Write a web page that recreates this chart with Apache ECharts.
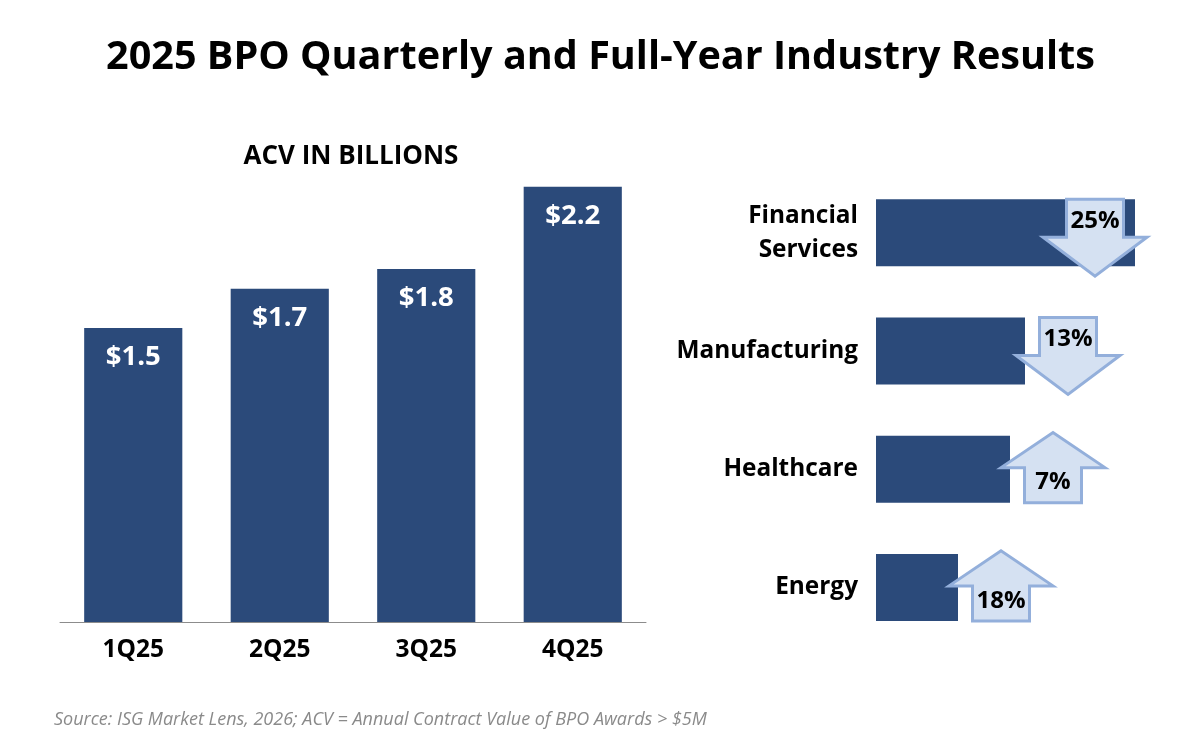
<!DOCTYPE html>
<html>
<head>
<meta charset="utf-8">
<script src="https://cdn.jsdelivr.net/npm/echarts@6/dist/echarts.min.js"></script>
<style>html,body{margin:0;padding:0;background:#fff;}#c{width:1201px;height:750px;}</style>
</head>
<body>
<div id="c"></div>
<script>
var quarters = ['1Q25', '2Q25', '3Q25', '4Q25'];
var acvValues = [1.5, 1.7, 1.8, 2.22];
var industries = ['Financial\nServices', 'Manufacturing', 'Healthcare', 'Energy'];
var industryValues = [2.59, 1.49, 1.34, 0.82];
var changePct = [25, 13, 7, 18];
var changeDir = ['down', 'down', 'up', 'up'];

var BAR = '#2b4a7a';
var FONT = '"Open Sans", "Noto Sans", sans-serif';

var chart = echarts.init(document.getElementById('c'), null, {renderer: 'canvas'});

var arrowData = industryValues.map(function (v, i) {
  return [v, i, changePct[i], changeDir[i] === 'up' ? 1 : 0];
});

function renderArrow(params, api) {
  var val = api.value(0), idx = api.value(1), pct = api.value(2), up = api.value(3);
  var pt = api.coord([val, idx]);
  var cy = pt[1];
  var cx = pt[0] + 43;
  if (cx + 54 > api.getWidth() - 20) cx = pt[0] - 40;
  var sw = 28.5, hw = 52;
  var pts, ty;
  if (!up) {
    var top = cy - 33.5;
    pts = [[cx - sw, top], [cx + sw, top], [cx + sw, top + 38], [cx + hw, top + 38],
           [cx, top + 77], [cx - hw, top + 38], [cx - sw, top + 38]];
    ty = top + 22;
  } else {
    var bot = cy + 33.5;
    pts = [[cx - sw, bot], [cx + sw, bot], [cx + sw, bot - 35], [cx + hw, bot - 35],
           [cx, bot - 70], [cx - hw, bot - 35], [cx - sw, bot - 35]];
    ty = bot - 20;
  }
  return {
    type: 'group',
    children: [
      {type: 'polygon', shape: {points: pts},
       style: {fill: '#d5e1f2', stroke: '#93afdb', lineWidth: 3, lineJoin: 'miter'}},
      {type: 'text', style: {text: pct + '%', x: cx, y: ty, align: 'center', verticalAlign: 'middle',
        fill: '#000', font: 'bold 24px ' + FONT}}
    ]
  };
}

var option = {
  backgroundColor: '#fff',
  animation: false,
  title: [
    {text: '2025 BPO Quarterly and Full-Year Industry Results', left: 'center', top: 33,
     textStyle: {fontFamily: FONT, fontWeight: 'bold', fontSize: 39.6, color: '#000'}},
    {text: 'ACV IN BILLIONS', left: 346, textAlign: 'center', top: 139,
     textStyle: {fontFamily: FONT, fontWeight: 'bold', fontSize: 26, color: '#000'}},
    {text: 'Source: ISG Market Lens, 2026; ACV = Annual Contract Value of BPO Awards > $5M', left: 49, top: 706,
     textStyle: {fontFamily: FONT, fontStyle: 'italic', fontWeight: 'normal', fontSize: 18, color: '#8a8a8a'}}
  ],
  grid: [
    {left: 60, width: 586, top: 186, height: 436},
    {left: 876, width: 300, top: 173.5, height: 473}
  ],
  xAxis: [
    {type: 'category', gridIndex: 0, data: quarters,
     axisLine: {lineStyle: {color: '#8c8c8c', width: 1}}, axisTick: {show: false},
     axisLabel: {fontFamily: FONT, fontWeight: 'bold', fontSize: 24.5, color: '#000', margin: 16}},
    {type: 'value', gridIndex: 1, min: 0, max: 3, show: false}
  ],
  yAxis: [
    {type: 'value', gridIndex: 0, min: 0, max: 2.224, show: false},
    {type: 'category', gridIndex: 1, data: industries, inverse: true,
     axisLine: {show: false}, axisTick: {show: false},
     axisLabel: {fontFamily: FONT, fontWeight: 'bold', fontSize: 24.4, color: '#000', margin: 18,
                 lineHeight: 34, align: 'right'}}
  ],
  series: [
    {type: 'bar', xAxisIndex: 0, yAxisIndex: 0, data: acvValues, barWidth: '67%',
     itemStyle: {color: BAR},
     label: {show: true, position: 'insideTop', distance: 15, color: '#fff', fontFamily: FONT,
             fontWeight: 'bold', fontSize: 27.5,
             formatter: function (p) { return '$' + p.value.toFixed(1); }}},
    {type: 'bar', xAxisIndex: 1, yAxisIndex: 1, data: industryValues, barWidth: 67,
     itemStyle: {color: BAR}},
    {type: 'custom', xAxisIndex: 1, yAxisIndex: 1, data: arrowData, renderItem: renderArrow, z: 5,
     encode: {x: 0, y: 1}}
  ]
};
chart.setOption(option);
</script>
</body>
</html>
